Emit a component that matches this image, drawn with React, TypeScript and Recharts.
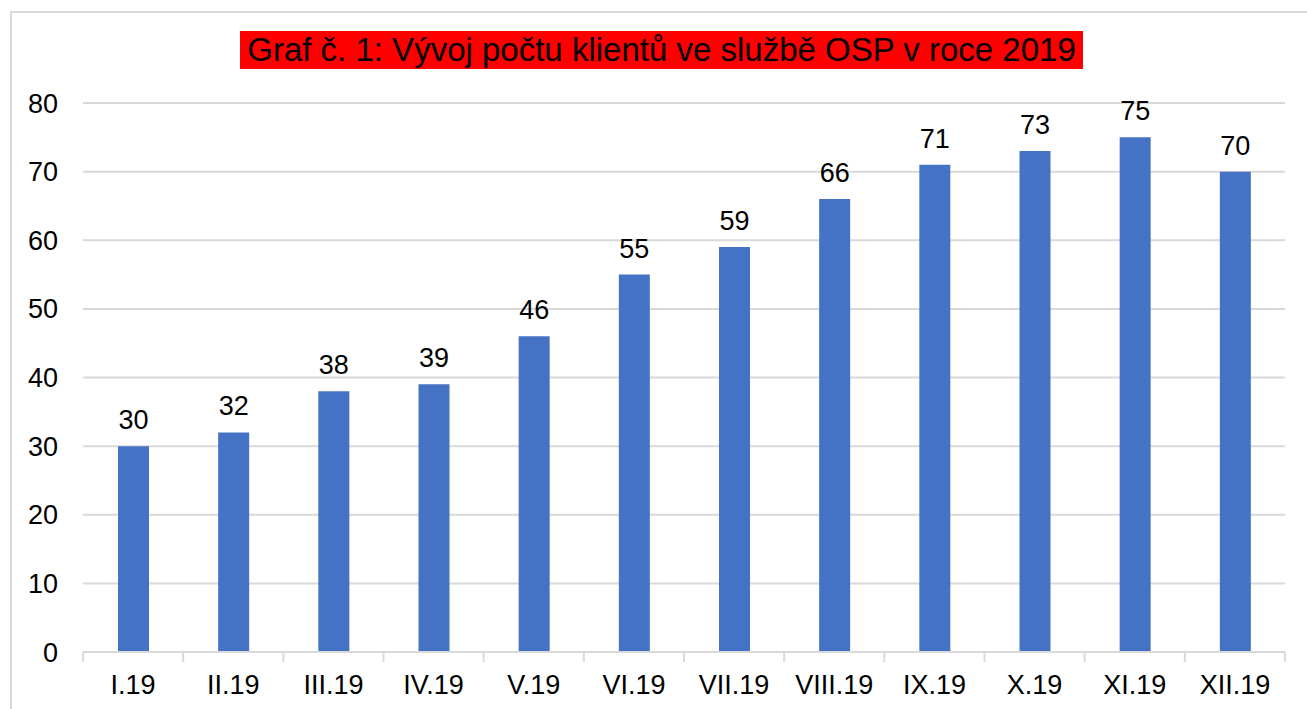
import { BarChart, Bar, XAxis, YAxis, CartesianGrid, LabelList } from 'recharts';

const months = ['I.19', 'II.19', 'III.19', 'IV.19', 'V.19', 'VI.19', 'VII.19', 'VIII.19', 'IX.19', 'X.19', 'XI.19', 'XII.19'];
const clients = [30, 32, 38, 39, 46, 55, 59, 66, 71, 73, 75, 70];
const yTicks = [0, 10, 20, 30, 40, 50, 60, 70, 80];

const data = months.map((m, i) => ({ name: m, clients: clients[i] }));

const FONT = '"Liberation Sans", Arial, sans-serif';
const GRID = '#d9d9d9';
const PLOT_W = 1202;

// category label plus the small divider ticks between categories
const MonthTick = (props: any) => {
  const { x, y, payload, index, visibleTicksCount } = props;
  const half = PLOT_W / (visibleTicksCount || 12) / 2;
  const last = index === (visibleTicksCount || 12) - 1;
  return (
    <g>
      <line x1={x - half} x2={x - half} y1={y} y2={y + 10} stroke={GRID} strokeWidth={2} />
      {last && <line x1={x + half} x2={x + half} y1={y} y2={y + 10} stroke={GRID} strokeWidth={2} />}
      <text x={x} y={y + 23} dy="0.71em" textAnchor="middle" fill="#000" fontSize={27} fontFamily={FONT}>
        {payload.value}
      </text>
    </g>
  );
};

const App = () => {
  return (
    <div style={{ position: 'relative', width: 1307, height: 709, overflow: 'hidden', background: '#fff' }}>
      <style>{'body{margin:0}'}</style>
      <div
        style={{
          position: 'absolute',
          left: 10,
          top: 11,
          width: 1320,
          height: 720,
          borderTop: `2px solid ${GRID}`,
          borderLeft: `2px solid ${GRID}`,
        }}
      />
      <div
        style={{
          position: 'absolute',
          left: 240,
          top: 31,
          width: 843,
          height: 38,
          background: '#ff0000',
          color: '#000',
          fontFamily: FONT,
          fontSize: 33,
          lineHeight: '38px',
          textAlign: 'center',
          whiteSpace: 'nowrap',
        }}
      >
        Graf č. 1: Vývoj počtu klientů ve službě OSP v roce 2019
      </div>
      <div style={{ position: 'absolute', left: 0, top: 0 }}>
        <BarChart
          width={1307}
          height={709}
          data={data}
          barSize={31}
          margin={{ top: 103, right: 22, left: 0, bottom: 0 }}
        >
          <CartesianGrid vertical={false} stroke={GRID} strokeWidth={2} />
          <XAxis
            dataKey="name"
            height={57}
            axisLine={{ stroke: GRID, strokeWidth: 2 }}
            tickLine={false}
            tickSize={0}
            tickMargin={0}
            interval={0}
            tick={<MonthTick />}
          />
          <YAxis
            width={83}
            domain={[0, 80]}
            ticks={yTicks}
            axisLine={false}
            tickLine={false}
            tickSize={0}
            tickMargin={25}
            tick={{ fontSize: 27, fill: '#000', fontFamily: FONT }}
          />
          <Bar dataKey="clients" fill="#4472C4" isAnimationActive={false}>
            <LabelList
              dataKey="clients"
              position="top"
              offset={17}
              fill="#000"
              fontSize={27}
              fontFamily={FONT}
            />
          </Bar>
        </BarChart>
      </div>
    </div>
  );
};

export default App;
